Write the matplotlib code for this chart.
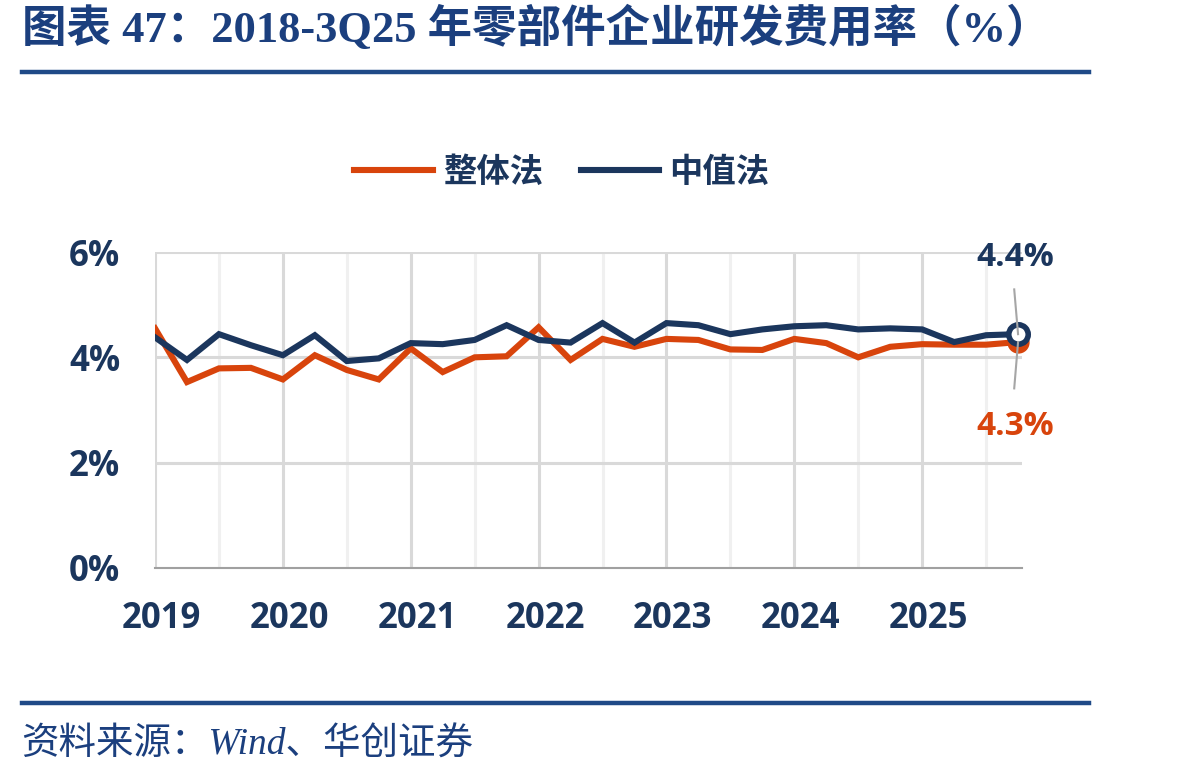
import numpy as np
import matplotlib
matplotlib.use("Agg")
import matplotlib.pyplot as plt
from matplotlib.lines import Line2D

# quarterly R&D expense ratio (%), 2018Q4 .. 2025Q3
overall = [4.55, 3.53, 3.79, 3.80, 3.58, 4.04, 3.76, 3.58, 4.17, 3.72, 4.00, 4.02, 4.57, 3.95,
           4.35, 4.20, 4.35, 4.33, 4.15, 4.14, 4.35, 4.27, 4.00, 4.20, 4.25, 4.24, 4.24, 4.29]
median = [4.38, 3.95, 4.44, 4.23, 4.04, 4.42, 3.93, 3.98, 4.27, 4.25, 4.33, 4.61, 4.33, 4.28,
          4.65, 4.28, 4.65, 4.61, 4.44, 4.53, 4.59, 4.61, 4.53, 4.55, 4.53, 4.29, 4.42, 4.44]
series_names = ["整体法", "中值法"]
years = [2019, 2020, 2021, 2022, 2023, 2024, 2025]
y_ticks = [0, 2, 4, 6]
x = 2019 + 0.25 * np.arange(len(overall))

ORANGE = "#D8440C"
NAVY = "#1B365D"
BLUE = "#1F4A87"
CJK = ["Noto Sans CJK SC", "DejaVu Sans"]
plt.rcParams["font.family"] = CJK

fig = plt.figure(figsize=(11.98, 7.79), dpi=100)
ax = fig.add_axes([0.1294, 0.2709, 0.7236, 0.4056])

# grid: year lines darker, half-year lines lighter
for yr in np.arange(2019, 2026, 0.5):
    c = "#D9D9D9" if yr == int(yr) else "#F0F0F0"
    ax.axvline(yr, color=c, lw=2.2, zorder=1)
for v in y_ticks[1:]:
    ax.axhline(v, color="#D9D9D9", lw=2.2, zorder=1)

ax.plot(x, overall, color=ORANGE, lw=4.4, zorder=3, solid_joinstyle="miter", label=series_names[0])
ax.plot(x, median, color=NAVY, lw=4.4, zorder=4, solid_joinstyle="miter", label=series_names[1])
ax.plot(x[-1], overall[-1], "o", ms=15, color=ORANGE, zorder=5, clip_on=False)
ax.plot(x[-1], median[-1], "o", ms=14, mfc="white", mec=NAVY, mew=4, zorder=6, clip_on=False)

# leader lines + end labels
ax.plot([x[-1] - 0.03, x[-1]], [5.29, median[-1]], color="#A6A6A6", lw=1.5, zorder=7, clip_on=False)
ax.plot([x[-1], x[-1] - 0.03], [overall[-1], 3.41], color="#A6A6A6", lw=1.5, zorder=7, clip_on=False)
ax.text(x[-1] - 0.02, 5.9, f"{median[-1]:.1f}%", color=NAVY, fontsize=24, fontweight="bold",
        ha="center", va="center", family="Open Sans")
ax.text(x[-1] - 0.02, 2.68, f"{overall[-1]:.1f}%", color=ORANGE, fontsize=24, fontweight="bold",
        ha="center", va="center", family="Open Sans")

ax.set_xlim(2019, 2025.78)
ax.set_ylim(0, 6)
ax.set_yticks(y_ticks)
ax.set_yticklabels([f"{v}%" for v in y_ticks], fontsize=25, fontweight="bold", color=NAVY, family="Open Sans")
ax.set_xticks(np.array(years) + 0.05)
ax.set_xticklabels([str(y) for y in years], fontsize=25, fontweight="bold", color=NAVY, family="Open Sans")
ax.tick_params(length=0)
ax.tick_params(axis="x", pad=24)
ax.tick_params(axis="y", pad=25)
for s in ["top", "right"]:
    ax.spines[s].set_visible(False)
ax.spines["left"].set_visible(False)
ax.spines["bottom"].set_color("#A0A0A0")
ax.spines["bottom"].set_linewidth(1.5)
ax.spines["bottom"].set_zorder(2)

leg = fig.legend(loc="center", bbox_to_anchor=(0.469, 0.779), ncol=2, frameon=False,
                 handlelength=2.35, handletextpad=0.3, columnspacing=1.15,
                 prop={"family": CJK, "size": 24, "weight": "bold"})
for t in leg.get_texts():
    t.set_color(NAVY)

# title, rules, source
fig.text(0.018, 0.963, "图表 47：2018-3Q25 年零部件企业研发费用率（%）", fontsize=32, fontweight="bold",
         color="#1B3F7E", ha="left", va="center", family=["Liberation Serif", "Noto Sans CJK SC"])
fig.add_artist(Line2D([0.018, 0.909], [0.907, 0.907], color=BLUE, lw=3.2))
fig.add_artist(Line2D([0.018, 0.909], [0.0975, 0.0975], color=BLUE, lw=3.2))
fig.text(0.018, 0.043, "资料来源：Wind、华创证券", fontsize=27, style="italic",
         color="#1B3F7E", ha="left", va="center", family=["Liberation Serif", "Noto Sans CJK SC"])

fig.savefig("out.png", dpi=100)
